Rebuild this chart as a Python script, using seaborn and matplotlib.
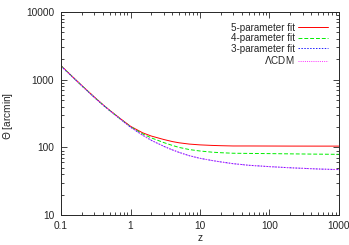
import numpy as np
import pandas as pd
import matplotlib
matplotlib.use("Agg")
import matplotlib.pyplot as plt
import seaborn as sns

# values (z vs angular size in arcmin)
z = [0.1, 0.15, 0.2, 0.3, 0.4, 0.5, 0.7, 1, 1.5, 2, 3, 4, 5, 7, 10,
     15, 20, 30, 50, 100, 200, 500, 1000]
theta_5par = [1610, 1078, 816, 556, 428, 354, 270, 205, 164, 147, 131, 122, 117, 112, 109,
              107, 106, 105, 105, 104.8, 104.6, 104.5, 104.5]
theta_4par = [1600, 1073, 812, 553, 426, 352, 268, 202, 158, 138, 118, 107, 100, 93, 88.5,
              85, 83.5, 82, 81.5, 81, 80.3, 79.5, 79]
theta_3par = [1590, 1068, 808, 550, 424, 350, 266, 199, 151, 127, 104, 92, 84.5, 75.5, 69,
              64, 61, 57.5, 54.5, 52, 50, 48, 47]
theta_lcdm = [1590, 1068, 808, 550, 424, 350, 266, 199, 151, 127, 104, 92, 84.5, 75.5, 69,
              64, 61, 57.5, 54.5, 52, 50, 48, 47]

labels = ["5-parameter fit", "4-parameter fit", "3-parameter fit", r"$\Lambda$CDM"]
series = [theta_5par, theta_4par, theta_3par, theta_lcdm]
colors = ["#ff0000", "#00ee00", "#2020ff", "#ff30ff"]
styles = ["-", (0, (4, 2)), (0, (1.5, 1.5)), (0, (1, 1.2))]

sns.set_style("ticks")
plt.rcParams["font.family"] = ["Liberation Sans", "DejaVu Sans"]

fig, ax = plt.subplots(figsize=(3.49, 2.45), dpi=100)
fig.subplots_adjust(left=0.175, right=0.971, top=0.951, bottom=0.122)

for lab, vals, c, ls in zip(labels, series, colors, styles):
    df = pd.DataFrame({"z": z, "theta": vals})
    sns.lineplot(data=df, x="z", y="theta", ax=ax, color=c, linestyle=ls,
                 linewidth=0.7, label=lab)

ax.set_xscale("log")
ax.set_yscale("log")
ax.set_xlim(0.1, 1000)
ax.set_ylim(10, 10000)
ax.set_xticks([0.1, 1, 10, 100, 1000])
ax.set_xticklabels(["0.1", "1", "10", "100", "1000"])
ax.set_yticks([10, 100, 1000, 10000])
ax.set_yticklabels(["10", "100", "1000", "10000"])
ax.tick_params(which="both", direction="in", top=True, right=True,
               labelsize=7.3, width=0.6)
ax.tick_params(axis="y", pad=5)
ax.tick_params(axis="x", pad=4)
ax.tick_params(which="major", length=4)
ax.tick_params(which="minor", length=2)
for s in ax.spines.values():
    s.set_linewidth(0.7)

ax.set_xlabel("z", fontsize=7.3, labelpad=2)
ax.set_ylabel(r"$\Theta$ [arcmin]", fontsize=7.3)
ax.yaxis.set_label_coords(-0.165, 0.49)

ax.legend(loc="upper right", frameon=False, markerfirst=False, fontsize=7.1,
          handlelength=3.0, handletextpad=0.4, labelspacing=0.05,
          borderaxespad=0.7)

fig.savefig("out.png", dpi=100)
